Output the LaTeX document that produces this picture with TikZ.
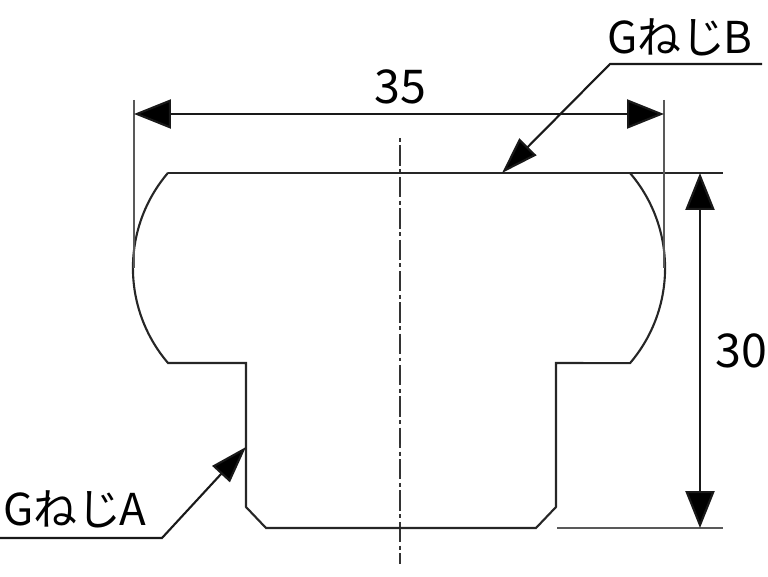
\documentclass[tikz,border=0pt]{standalone}
\usepackage{fontspec}
\setmainfont{Noto Sans CJK JP}[Scale=1]
\usetikzlibrary{arrows.meta}
\begin{document}
\begin{tikzpicture}[x=0.02cm,y=-0.02cm,
	kontur/.style={line width=1.2pt,color=black!85,line join=miter},
	hilfslinie/.style={line width=1.1pt,color=black!65},
	mass/.style={line width=1.2pt,color=black!90,{Triangle[length=21pt,width=16.5pt,fill=black]}-{Triangle[length=21pt,width=16.5pt,fill=black]}},
	zeiger/.style={line width=1.2pt,color=black!90,-{Triangle[length=21pt,width=13.5pt,fill=black]}},
	mitte/.style={line width=1.1pt,color=black!80,dash pattern=on 2.25pt off 2pt on 11.6pt off 2pt},
	beschriftung/.style={inner sep=0pt,font=\fontsize{25}{25}\selectfont},
	zahl/.style={inner sep=0pt,font=\fontsize{26.5}{26.5}\selectfont}]
	\useasboundingbox (0,0) rectangle (768,577);
	%Mittellinie
	\coordinate (mitteoben) at (400,138);
	\coordinate (mitteunten) at (400,564);
	\draw [mitte] (mitteoben) -- (mitteunten);
	%Kontur
	\coordinate (obenlinks) at (168,173);
	\coordinate (obenrechts) at (630,173);
	\coordinate (bundlinks) at (168,363);
	\coordinate (bundrechts) at (630,363);
	\coordinate (halslinks) at (246,363);
	\coordinate (halsrechts) at (556,363);
	\coordinate (fase1) at (246,507);
	\coordinate (fase2) at (266,528);
	\coordinate (fase3) at (536,528);
	\coordinate (fase4) at (556,507);
	\draw [kontur] (obenrechts) arc (-40.5:40.5:146.4) -- (halsrechts) -- (fase4) -- (fase3) -- (fase2) -- (fase1) -- (halslinks) -- (bundlinks) arc (139.5:220.5:146.4);
	%Hilfslinien
	\coordinate (hilfoben) at (723,173);
	\coordinate (hilfunten) at (723,528);
	\coordinate (hilfunten2) at (557,528);
	\coordinate (hilflinks1) at (134,100);
	\coordinate (hilflinks2) at (134,268);
	\coordinate (hilfrechts1) at (664,100);
	\coordinate (hilfrechts2) at (664,268);
	\draw [kontur] (obenlinks) -- (hilfoben);
	\draw [hilfslinie] (hilfunten2) -- (hilfunten);
	\draw [hilfslinie] (hilflinks1) -- (hilflinks2);
	\draw [hilfslinie] (hilfrechts1) -- (hilfrechts2);
	%Masspfeile
	\coordinate (breitelinks) at (134,114);
	\coordinate (breiterechts) at (664,114);
	\coordinate (hoeheoben) at (700,173);
	\coordinate (hoeheunten) at (700,528);
	\draw [mass] (breitelinks) -- (breiterechts);
	\draw [mass] (hoeheoben) -- (hoeheunten);
	%Zeiger
	\coordinate (zeigerbende) at (762,64);
	\coordinate (zeigerbknick) at (610,64);
	\coordinate (zeigerbspitze) at (502,173);
	\coordinate (zeigeraende) at (0,538);
	\coordinate (zeigeraknick) at (162,538);
	\coordinate (zeigeraspitze) at (246,447);
	\draw [zeiger] (zeigerbende) -- (zeigerbknick) -- (zeigerbspitze);
	\draw [zeiger] (zeigeraende) -- (zeigeraknick) -- (zeigeraspitze);
	%Beschriftungen
	\node [zahl] (breite) at (400,87) {35};
	\node [zahl] (hoehe) at (741,351) {30};
	\node [beschriftung] (gewindeb) at (680,37) {Gねじ\kern-1pt B};
	\node [beschriftung] (gewindea) at (75,509) {Gねじ\kern-1pt A};
\end{tikzpicture}
\end{document}
